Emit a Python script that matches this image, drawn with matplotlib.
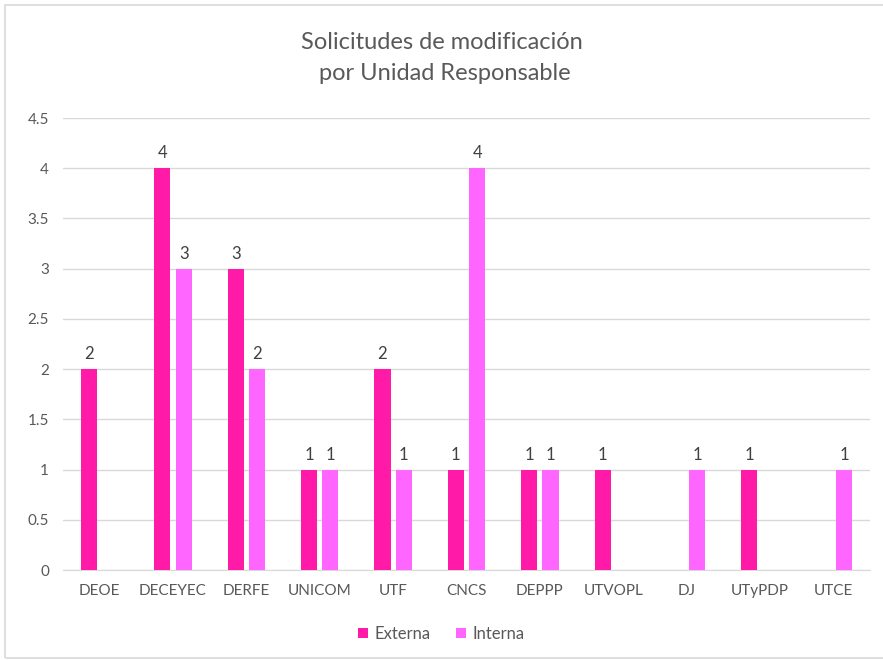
import numpy as np
import matplotlib.pyplot as plt
from matplotlib.patches import Rectangle

# Data
categories = ['DEOE', 'DECEYEC', 'DERFE', 'UNICOM', 'UTF', 'CNCS',
              'DEPPP', 'UTVOPL', 'DJ', 'UTyPDP', 'UTCE']
externa = [2, 4, 3, 1, 2, 1, 1, 1, 0, 1, 0]
interna = [0, 3, 2, 1, 1, 4, 1, 0, 1, 0, 1]

c_ext = '#FF1AA8'
c_int = '#FF66FF'
gray = '#595959'

plt.rcParams['font.family'] = ['Lato', 'DejaVu Sans']

fig = plt.figure(figsize=(8.83, 6.6), dpi=100)
fig.patches.append(Rectangle((5 / 883, 0.003), 1.2, 1 - 5 / 660 - 0.003,
                             transform=fig.transFigure, fill=False,
                             edgecolor='#D9D9D9', linewidth=1.2))
ax = fig.add_axes([63 / 883, 1 - 570 / 660, 807 / 883, (570 - 118) / 660])

x = np.arange(len(categories))
w = 0.22
off = 0.145
b1 = ax.bar(x - off, externa, w, color=c_ext, label='Externa', zorder=3)
b2 = ax.bar(x + off, interna, w, color=c_int, label='Interna', zorder=3)

for bars, vals in ((b1, externa), (b2, interna)):
    for r, v in zip(bars, vals):
        if v:
            ax.text(r.get_x() + r.get_width() / 2, v + 0.07, str(v),
                    ha='center', va='bottom', fontsize=12, color='#404040')

ax.set_xlim(-0.5, len(categories) - 0.5)
ax.set_ylim(0, 4.5)
ax.set_yticks(np.arange(0, 4.51, 0.5))
ax.set_yticklabels(['0', '0.5', '1', '1.5', '2', '2.5', '3', '3.5', '4', '4.5'])
ax.set_xticks(x)
ax.set_xticklabels(categories)
ax.tick_params(axis='both', length=0, labelsize=11, colors=gray, pad=10)
ax.grid(axis='y', color='#D9D9D9', linewidth=1, zorder=0)
for s in ['top', 'right', 'left']:
    ax.spines[s].set_visible(False)
ax.spines['bottom'].set_color('#D9D9D9')

fig.text(0.5, 1 - 58 / 660, 'Solicitudes de modificación\n por Unidad Responsable',
         ha='center', va='center', fontsize=17, color=gray, linespacing=1.6)

fig.legend(handles=[b1, b2], loc='center', bbox_to_anchor=(0.5, 1 - 634 / 660),
           ncol=2, frameon=False, fontsize=12, labelcolor=gray,
           handlelength=0.6, handleheight=0.6, handletextpad=0.4, columnspacing=1.5)

fig.savefig('out.png', dpi=100)
